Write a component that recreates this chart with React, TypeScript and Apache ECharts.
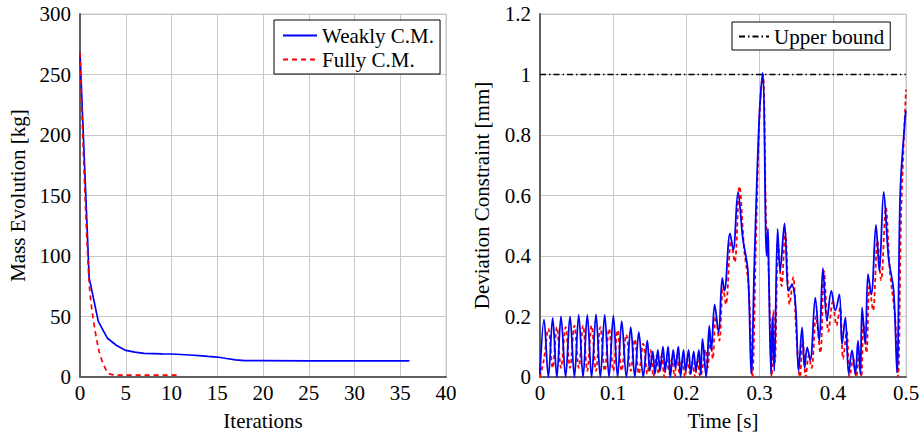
import React, { useEffect, useRef } from "react";
import * as echarts from "echarts";

// Left panel: mass evolution vs iterations
const weaklyMass: [number, number][] = [
  [0, 268], [1, 82], [2, 46], [3, 32], [4, 26], [5, 22], [6, 20.5], [7, 19.5],
  [8, 19.3], [9, 19.1], [10, 19], [11, 18.6], [12, 18.2], [13, 17.6], [14, 17],
  [15, 16.5], [16, 15.3], [17, 14.2], [18, 13.5], [20, 13.5], [25, 13.4],
  [30, 13.4], [36, 13.3],
];
const fullyMass: [number, number][] = [
  [0, 268], [1, 78], [2, 24], [3, 4], [4, 1.5], [5, 1.5], [6, 1.5], [7, 1.5],
  [8, 1.5], [9, 1.5], [10, 1.5], [11, 1.5],
];
const massTicks = [0, 50, 100, 150, 200, 250, 300];
const iterTicks = [0, 5, 10, 15, 20, 25, 30, 35, 40];

// Right panel: deviation constraint vs time
const weaklyDev: [number, number][] = [
  [0, 0.01], [0.0055, 0.19], [0.0114, 0.0], [0.0173, 0.195], [0.023, 0.0],
  [0.0287, 0.2], [0.035, 0.0], [0.041, 0.2], [0.047, 0.0], [0.0529, 0.205],
  [0.0588, 0.0], [0.0646, 0.205], [0.0705, 0.0], [0.0765, 0.207], [0.0824, 0.0],
  [0.0884, 0.205], [0.0943, 0.0], [0.1002, 0.203], [0.106, 0.0], [0.1116, 0.185],
  [0.118, 0.0], [0.124, 0.165], [0.1295, 0.0], [0.135, 0.148], [0.141, 0.0],
  [0.1466, 0.12], [0.150, 0.02], [0.154, 0.085], [0.157, 0.01], [0.161, 0.09],
  [0.164, 0.02], [0.168, 0.1], [0.171, 0.02], [0.175, 0.1], [0.178, 0.0],
  [0.182, 0.09], [0.185, 0.03], [0.189, 0.1], [0.192, 0.0], [0.196, 0.09],
  [0.199, 0.02], [0.203, 0.09], [0.206, 0.01], [0.21, 0.085], [0.213, 0.02],
  [0.217, 0.09], [0.2195, 0.01], [0.222, 0.126], [0.227, 0.0], [0.2313, 0.17],
  [0.234, 0.088], [0.2386, 0.24], [0.244, 0.147], [0.249, 0.328], [0.252, 0.285],
  [0.2596, 0.475], [0.264, 0.42], [0.2705, 0.612], [0.277, 0.46], [0.284, 0.35],
  [0.2886, 0.01], [0.293, 0.39], [0.2996, 0.86], [0.3042, 1.005], [0.3096, 0.4],
  [0.3114, 0.49], [0.3125, 0.35], [0.3156, 0.01], [0.3174, 0.197], [0.32, 0.02],
  [0.3246, 0.49], [0.328, 0.35], [0.334, 0.508], [0.3396, 0.285], [0.344, 0.305],
  [0.349, 0.24], [0.3533, 0.02], [0.358, 0.164], [0.3615, 0.03], [0.365, 0.098],
  [0.3692, 0.055], [0.3761, 0.262], [0.3815, 0.12], [0.3865, 0.36], [0.392, 0.187],
  [0.398, 0.285], [0.4035, 0.22], [0.409, 0.273], [0.4126, 0.108], [0.4171, 0.197],
  [0.4217, 0.01], [0.4262, 0.088], [0.4308, 0.01], [0.4344, 0.12], [0.4376, 0.01],
  [0.44, 0.23], [0.4444, 0.108], [0.4481, 0.34], [0.4526, 0.273], [0.459, 0.503],
  [0.4636, 0.35], [0.4695, 0.612], [0.4763, 0.39], [0.4831, 0.285], [0.4877, 0.015],
  [0.4922, 0.612], [0.499, 0.863], [0.5, 0.88],
];
const fullyDev: [number, number][] = [
  [0, 0.0], [0.0055, 0.06], [0.0114, 0.16], [0.0173, 0.03], [0.023, 0.165],
  [0.0287, 0.03], [0.035, 0.165], [0.041, 0.03], [0.047, 0.17], [0.0529, 0.03],
  [0.0588, 0.17], [0.0646, 0.02], [0.0705, 0.17], [0.0765, 0.02], [0.0824, 0.165],
  [0.0884, 0.02], [0.0943, 0.16], [0.1002, 0.02], [0.106, 0.155], [0.1116, 0.02],
  [0.118, 0.14], [0.124, 0.02], [0.1295, 0.125], [0.135, 0.01], [0.141, 0.11],
  [0.1466, 0.01], [0.151, 0.09], [0.155, 0.0], [0.159, 0.07], [0.162, 0.01],
  [0.166, 0.07], [0.17, 0.0], [0.173, 0.06], [0.177, 0.01], [0.18, 0.06],
  [0.184, 0.0], [0.187, 0.07], [0.191, 0.01], [0.194, 0.06], [0.198, 0.0],
  [0.201, 0.06], [0.205, 0.01], [0.208, 0.05], [0.212, 0.0], [0.215, 0.06],
  [0.219, 0.0], [0.222, 0.03], [0.226, 0.09], [0.229, 0.03], [0.233, 0.13],
  [0.236, 0.06], [0.24, 0.2], [0.245, 0.12], [0.25, 0.3], [0.254, 0.24],
  [0.261, 0.45], [0.266, 0.38], [0.2725, 0.63], [0.279, 0.42], [0.285, 0.3],
  [0.29, 0.0], [0.295, 0.45], [0.3005, 0.9], [0.3045, 1.0], [0.309, 0.5],
  [0.311, 0.45], [0.313, 0.3], [0.3165, 0.0], [0.319, 0.22], [0.321, 0.05],
  [0.3255, 0.44], [0.33, 0.3], [0.335, 0.48], [0.341, 0.24], [0.346, 0.33],
  [0.35, 0.15], [0.355, 0.0], [0.359, 0.12], [0.363, 0.0], [0.367, 0.07],
  [0.371, 0.03], [0.377, 0.2], [0.383, 0.08], [0.388, 0.35], [0.394, 0.15],
  [0.4, 0.25], [0.405, 0.17], [0.41, 0.23], [0.414, 0.06], [0.419, 0.15],
  [0.423, 0.0], [0.428, 0.06], [0.432, 0.0], [0.436, 0.08], [0.439, 0.0],
  [0.442, 0.18], [0.446, 0.08], [0.45, 0.3], [0.455, 0.22], [0.461, 0.45],
  [0.466, 0.32], [0.4725, 0.56], [0.478, 0.35], [0.485, 0.2], [0.489, 0.0],
  [0.4935, 0.55], [0.5, 0.95],
];
const upperBound: [number, number][] = [[0, 1], [0.5, 1]];
const devTicks = [0, 0.2, 0.4, 0.6, 0.8, 1, 1.2];
const timeTicks = [0, 0.1, 0.2, 0.3, 0.4, 0.5];

const FONT = "Liberation Serif";
const FS = 21;

export default function App() {
  const ref = useRef<HTMLDivElement>(null);
  useEffect(() => {
    if (!ref.current) return;
    const chart = echarts.init(ref.current, undefined, { renderer: "svg" });
    const axisLabel = { color: "#000", fontFamily: FONT, fontSize: FS };
    const nameStyle = { color: "#000", fontFamily: FONT, fontSize: FS };
    const splitLine = { show: true, lineStyle: { color: "#c8c8c8", width: 1 } };
    const axisLine = { show: true, lineStyle: { color: "#606060", width: 2 } };
    const mkX = (gi: number, min: number, max: number, interval: number, name: string) => ({
      type: "value", gridIndex: gi, min, max, interval, name,
      nameLocation: "middle", nameGap: 33, nameTextStyle: nameStyle,
      axisLabel: { ...axisLabel, margin: 5 }, axisTick: { show: false },
      splitLine, axisLine,
    });
    const mkY = (gi: number, min: number, max: number, interval: number, name: string, gap: number) => ({
      type: "value", gridIndex: gi, min, max, interval, name,
      nameLocation: "middle", nameGap: gap, nameTextStyle: nameStyle,
      axisLabel: { ...axisLabel, margin: 9 }, axisTick: { show: false },
      splitLine, axisLine,
    });
    const legendCommon = {
      orient: "vertical",
      backgroundColor: "#fff", borderColor: "#000", borderWidth: 1,
      textStyle: { color: "#000", fontFamily: FONT, fontSize: FS },
      itemStyle: { opacity: 0, borderWidth: 0 },
    };
    chart.setOption({
      animation: false,
      backgroundColor: "#fff",
      textStyle: { fontFamily: FONT },
      grid: [
        { left: 80, top: 14, width: 366, height: 366, show: true, borderColor: "#c8c8c8", borderWidth: 1, backgroundColor: "transparent" },
        { left: 540, top: 14, width: 366, height: 366, show: true, borderColor: "#c8c8c8", borderWidth: 1, backgroundColor: "transparent" },
      ],
      xAxis: [
        mkX(0, iterTicks[0], iterTicks[iterTicks.length - 1], 5, "Iterations"),
        mkX(1, timeTicks[0], timeTicks[timeTicks.length - 1], 0.1, "Time [s]"),
      ],
      yAxis: [
        mkY(0, massTicks[0], massTicks[massTicks.length - 1], 50, "Mass Evolution [kg]", 52),
        mkY(1, devTicks[0], devTicks[devTicks.length - 1], 0.2, "Deviation Constraint [mm]", 48),
      ],
      legend: [
        {
          ...legendCommon,
          data: ["Weakly C.M.", "Fully C.M."],
          left: 274, top: 20,
          padding: [5, 6, 4, 8], itemGap: 3, itemWidth: 34, itemHeight: 18,
        },
        {
          ...legendCommon,
          data: ["Upper bound"],
          left: 732, top: 22,
          padding: [4, 6, 3, 6], itemWidth: 30, itemHeight: 18,
        },
      ],
      series: [
        {
          name: "Weakly C.M.", type: "line", xAxisIndex: 0, yAxisIndex: 0,
          data: weaklyMass, symbol: "none", lineStyle: { color: "#0000ff", width: 1.7 },
          itemStyle: { color: "#0000ff" },
        },
        {
          name: "Fully C.M.", type: "line", xAxisIndex: 0, yAxisIndex: 0,
          data: fullyMass, symbol: "none", smooth: 0.3,
          lineStyle: { color: "#ff0000", width: 1.7, type: [5, 4] },
          itemStyle: { color: "#ff0000" },
        },
        {
          name: "Upper bound", type: "line", xAxisIndex: 1, yAxisIndex: 1,
          data: upperBound, symbol: "none",
          lineStyle: { color: "#000", width: 1.4, type: [6, 3, 1.5, 3] },
          itemStyle: { color: "#000" },
        },
        {
          name: "Fully C.M. dev", type: "line", xAxisIndex: 1, yAxisIndex: 1,
          data: fullyDev, symbol: "none", smooth: 0.35,
          lineStyle: { color: "#ff0000", width: 1.8, type: [4, 3] },
        },
        {
          name: "Weakly C.M. dev", type: "line", xAxisIndex: 1, yAxisIndex: 1,
          data: weaklyDev, symbol: "none", smooth: 0.35,
          lineStyle: { color: "#0000ff", width: 1.8 },
        },
      ],
    });
    return () => chart.dispose();
  }, []);
  return (
    <div
      ref={ref}
      style={{ position: "fixed", left: 0, top: 0, width: 924, height: 436, background: "#fff" }}
    />
  );
}
